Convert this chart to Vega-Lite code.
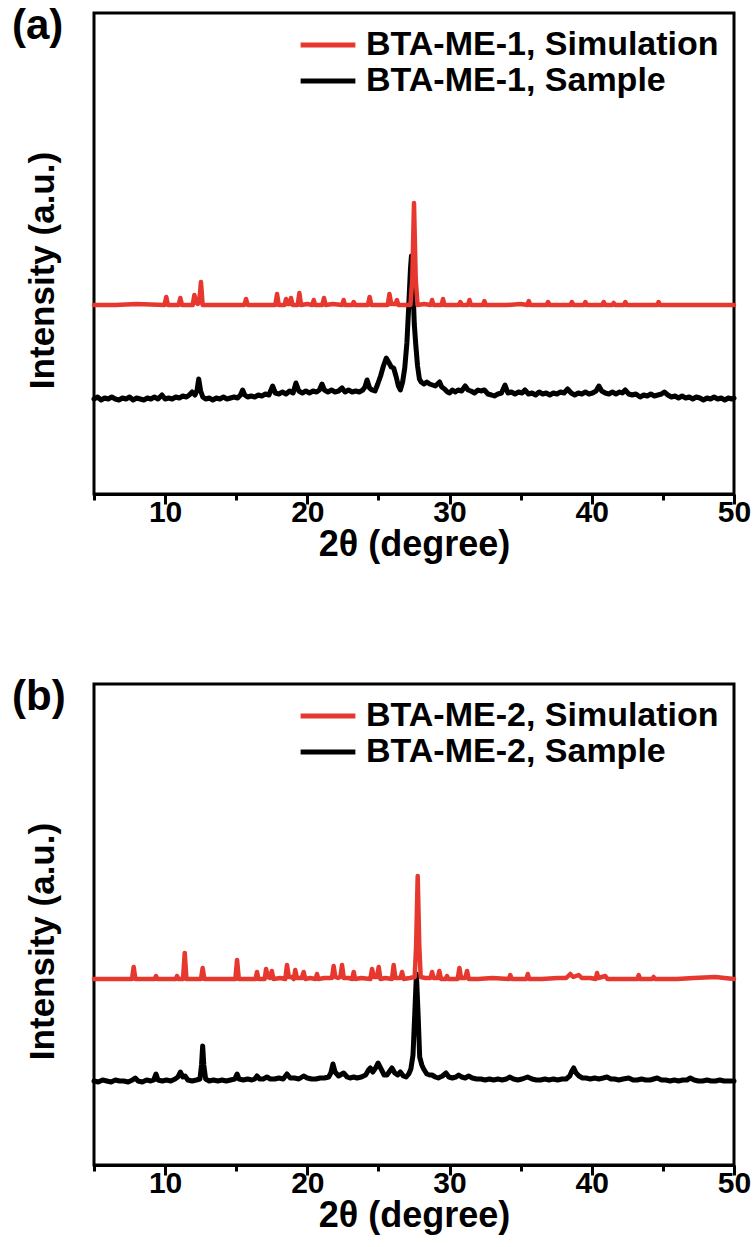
{
"$schema": "https://vega.github.io/schema/vega-lite/v6.json",
"background": "white",
"padding": {"left": 10, "top": 3, "right": 4, "bottom": 4},
"config": {
  "font": "Liberation Sans",
  "view": {"stroke": "#000000", "strokeWidth": 3},
  "line": {"strokeJoin": "round", "strokeCap": "round"},
  "legend": {"orient": "top-right", "offset": 15, "padding": 0, "title": null, "symbolType": "stroke", "symbolSize": 3000, "symbolStrokeWidth": 5, "clipHeight": 34, "rowPadding": 2, "labelFontSize": 34, "labelFontWeight": "bold", "labelColor": "#000000", "labelOffset": 8, "labelLimit": 500},
  "title": {"anchor": "start", "frame": "group", "orient": "top", "offset": -35, "dx": -82, "fontSize": 42, "fontWeight": "bold", "color": "#000000", "baseline": "bottom"},
  "concat": {"spacing": 110}
},
"datasets": {
"simA": [{"x":5,"y":189},{"x":6.5,"y":189},{"x":8,"y":190},{"x":9.96,"y":189},{"x":10.08,"y":197},{"x":10.2,"y":189},{"x":10.95,"y":189},{"x":11.07,"y":196},{"x":11.19,"y":189},{"x":11.94,"y":189},{"x":12.06,"y":199},{"x":12.2,"y":191},{"x":12.3,"y":190},{"x":12.4,"y":192},{"x":12.52,"y":212},{"x":12.64,"y":189},{"x":14,"y":189},{"x":15.57,"y":189},{"x":15.69,"y":195},{"x":15.81,"y":189},{"x":17.75,"y":189},{"x":17.87,"y":200},{"x":17.99,"y":189},{"x":18.4,"y":189},{"x":18.5,"y":195},{"x":18.6,"y":190},{"x":18.75,"y":190},{"x":18.85,"y":196},{"x":18.97,"y":189},{"x":19.32,"y":189},{"x":19.44,"y":201},{"x":19.56,"y":189},{"x":20.0,"y":190},{"x":20.35,"y":189},{"x":20.45,"y":194},{"x":20.55,"y":189},{"x":21.05,"y":189},{"x":21.17,"y":196},{"x":21.29,"y":189},{"x":21.8,"y":190},{"x":22.45,"y":189},{"x":22.55,"y":194},{"x":22.65,"y":189},{"x":23.16,"y":189},{"x":23.26,"y":192},{"x":23.36,"y":189},{"x":24.26,"y":189},{"x":24.38,"y":197},{"x":24.5,"y":189},{"x":25.65,"y":189},{"x":25.77,"y":200},{"x":25.9,"y":190},{"x":26.2,"y":190},{"x":26.3,"y":194},{"x":26.4,"y":189},{"x":27.25,"y":189},{"x":27.38,"y":215},{"x":27.5,"y":291},{"x":27.62,"y":215},{"x":27.75,"y":189},{"x":28.2,"y":190},{"x":28.67,"y":189},{"x":28.77,"y":194},{"x":28.87,"y":189},{"x":29.44,"y":189},{"x":29.54,"y":195},{"x":29.64,"y":189},{"x":30.66,"y":189},{"x":30.76,"y":192},{"x":30.86,"y":189},{"x":31.3,"y":189},{"x":31.4,"y":194},{"x":31.5,"y":189},{"x":32.35,"y":189},{"x":32.45,"y":193},{"x":32.55,"y":189},{"x":34,"y":189},{"x":35.0,"y":190},{"x":35.47,"y":189},{"x":35.57,"y":193},{"x":35.67,"y":189},{"x":36.83,"y":189},{"x":36.93,"y":192},{"x":37.03,"y":189},{"x":38.5,"y":189},{"x":38.6,"y":192},{"x":38.7,"y":189},{"x":39.45,"y":189},{"x":39.55,"y":192},{"x":39.65,"y":189},{"x":40.74,"y":189},{"x":40.84,"y":192},{"x":40.94,"y":189},{"x":41.44,"y":189},{"x":41.54,"y":191},{"x":41.64,"y":189},{"x":42.26,"y":189},{"x":42.36,"y":192},{"x":42.46,"y":189},{"x":43.5,"y":189},{"x":44.6,"y":189},{"x":44.7,"y":192},{"x":44.8,"y":189},{"x":46,"y":189},{"x":48,"y":189},{"x":50,"y":189}],
"smpA": [{"x":5.0,"y":95},{"x":5.25,"y":97},{"x":5.5,"y":94},{"x":5.75,"y":96},{"x":6.0,"y":95},{"x":6.25,"y":97},{"x":6.5,"y":95},{"x":6.75,"y":94},{"x":7.0,"y":96},{"x":7.25,"y":95},{"x":7.5,"y":97},{"x":7.75,"y":94},{"x":8.0,"y":96},{"x":8.25,"y":95},{"x":8.5,"y":94},{"x":8.75,"y":96},{"x":9.0,"y":95},{"x":9.25,"y":97},{"x":9.5,"y":95},{"x":9.78,"y":99},{"x":10.0,"y":95},{"x":10.25,"y":96},{"x":10.5,"y":95},{"x":10.75,"y":97},{"x":11.0,"y":96},{"x":11.25,"y":98},{"x":11.5,"y":97},{"x":11.7,"y":99},{"x":11.9,"y":102},{"x":12.1,"y":99},{"x":12.25,"y":104},{"x":12.36,"y":115},{"x":12.5,"y":103},{"x":12.65,"y":97},{"x":12.85,"y":95},{"x":13.1,"y":96},{"x":13.35,"y":94},{"x":13.6,"y":96},{"x":13.85,"y":95},{"x":14.1,"y":97},{"x":14.35,"y":95},{"x":14.6,"y":96},{"x":14.85,"y":97},{"x":15.1,"y":96},{"x":15.3,"y":99},{"x":15.45,"y":104},{"x":15.6,"y":99},{"x":15.8,"y":97},{"x":16.05,"y":98},{"x":16.3,"y":97},{"x":16.55,"y":99},{"x":16.8,"y":98},{"x":17.05,"y":100},{"x":17.3,"y":99},{"x":17.56,"y":108},{"x":17.75,"y":101},{"x":18.0,"y":100},{"x":18.25,"y":102},{"x":18.5,"y":100},{"x":18.75,"y":103},{"x":19.0,"y":101},{"x":19.2,"y":111},{"x":19.4,"y":103},{"x":19.65,"y":101},{"x":19.9,"y":103},{"x":20.15,"y":101},{"x":20.4,"y":103},{"x":20.65,"y":102},{"x":20.85,"y":104},{"x":21.03,"y":110},{"x":21.2,"y":104},{"x":21.45,"y":102},{"x":21.7,"y":104},{"x":21.95,"y":102},{"x":22.2,"y":103},{"x":22.44,"y":106},{"x":22.65,"y":102},{"x":22.9,"y":104},{"x":23.15,"y":102},{"x":23.4,"y":103},{"x":23.65,"y":102},{"x":23.9,"y":104},{"x":24.05,"y":107},{"x":24.2,"y":114},{"x":24.38,"y":106},{"x":24.55,"y":104},{"x":24.76,"y":103},{"x":24.95,"y":110},{"x":25.15,"y":118},{"x":25.35,"y":128},{"x":25.55,"y":136},{"x":25.75,"y":131},{"x":25.9,"y":127},{"x":26.07,"y":126},{"x":26.25,"y":117},{"x":26.4,"y":108},{"x":26.54,"y":104},{"x":26.7,"y":112},{"x":26.85,"y":126},{"x":27.0,"y":151},{"x":27.12,"y":185},{"x":27.25,"y":225},{"x":27.32,"y":238},{"x":27.42,"y":210},{"x":27.52,"y":170},{"x":27.62,"y":150},{"x":27.75,"y":128},{"x":27.88,"y":115},{"x":28.0,"y":112},{"x":28.2,"y":110},{"x":28.4,"y":112},{"x":28.6,"y":110},{"x":28.8,"y":109},{"x":29.0,"y":108},{"x":29.15,"y":110},{"x":29.3,"y":112},{"x":29.45,"y":107},{"x":29.65,"y":105},{"x":29.85,"y":102},{"x":30.0,"y":101},{"x":30.2,"y":104},{"x":30.4,"y":102},{"x":30.6,"y":104},{"x":30.85,"y":103},{"x":31.1,"y":108},{"x":31.3,"y":104},{"x":31.5,"y":103},{"x":31.75,"y":101},{"x":32.0,"y":104},{"x":32.2,"y":103},{"x":32.45,"y":104},{"x":32.7,"y":100},{"x":32.95,"y":99},{"x":33.15,"y":98},{"x":33.4,"y":100},{"x":33.65,"y":101},{"x":33.9,"y":109},{"x":34.1,"y":101},{"x":34.35,"y":102},{"x":34.6,"y":100},{"x":34.85,"y":102},{"x":35.1,"y":101},{"x":35.3,"y":104},{"x":35.55,"y":100},{"x":35.8,"y":101},{"x":36.05,"y":99},{"x":36.3,"y":102},{"x":36.55,"y":100},{"x":36.8,"y":101},{"x":37.05,"y":99},{"x":37.3,"y":101},{"x":37.55,"y":100},{"x":37.8,"y":102},{"x":38.05,"y":101},{"x":38.3,"y":105},{"x":38.55,"y":101},{"x":38.8,"y":99},{"x":39.05,"y":101},{"x":39.3,"y":100},{"x":39.55,"y":102},{"x":39.8,"y":100},{"x":40.05,"y":101},{"x":40.3,"y":103},{"x":40.5,"y":108},{"x":40.7,"y":103},{"x":40.95,"y":101},{"x":41.2,"y":100},{"x":41.45,"y":102},{"x":41.7,"y":100},{"x":41.95,"y":102},{"x":42.15,"y":101},{"x":42.35,"y":104},{"x":42.6,"y":100},{"x":42.85,"y":99},{"x":43.1,"y":100},{"x":43.4,"y":97},{"x":43.65,"y":99},{"x":43.9,"y":98},{"x":44.15,"y":100},{"x":44.4,"y":98},{"x":44.65,"y":99},{"x":44.9,"y":100},{"x":45.1,"y":102},{"x":45.35,"y":99},{"x":45.6,"y":97},{"x":45.85,"y":98},{"x":46.1,"y":96},{"x":46.35,"y":98},{"x":46.6,"y":96},{"x":46.85,"y":97},{"x":47.1,"y":95},{"x":47.35,"y":97},{"x":47.6,"y":96},{"x":47.85,"y":94},{"x":48.1,"y":96},{"x":48.35,"y":95},{"x":48.6,"y":97},{"x":48.85,"y":95},{"x":49.1,"y":96},{"x":49.35,"y":94},{"x":49.6,"y":96},{"x":49.85,"y":95},{"x":50.0,"y":96}],
"simB": [{"x":5,"y":186},{"x":7.0,"y":186},{"x":7.67,"y":186},{"x":7.79,"y":198},{"x":7.91,"y":186},{"x":9.26,"y":186},{"x":9.36,"y":189},{"x":9.46,"y":186},{"x":10.74,"y":186},{"x":10.84,"y":189},{"x":10.94,"y":186},{"x":11.26,"y":186},{"x":11.38,"y":212},{"x":11.5,"y":186},{"x":12.52,"y":186},{"x":12.64,"y":197},{"x":12.76,"y":186},{"x":14,"y":186},{"x":14.94,"y":186},{"x":15.06,"y":205},{"x":15.18,"y":186},{"x":16.36,"y":186},{"x":16.46,"y":193},{"x":16.56,"y":186},{"x":17.0,"y":186},{"x":17.1,"y":196},{"x":17.22,"y":188},{"x":17.38,"y":187},{"x":17.5,"y":194},{"x":17.62,"y":186},{"x":18.1,"y":187},{"x":18.45,"y":186},{"x":18.57,"y":200},{"x":18.7,"y":188},{"x":18.9,"y":188},{"x":19.05,"y":186},{"x":19.15,"y":195},{"x":19.27,"y":187},{"x":19.6,"y":187},{"x":19.74,"y":193},{"x":19.86,"y":186},{"x":20.2,"y":187},{"x":20.58,"y":186},{"x":20.68,"y":191},{"x":20.78,"y":186},{"x":21.2,"y":187},{"x":21.73,"y":187},{"x":21.85,"y":199},{"x":21.97,"y":188},{"x":22.15,"y":187},{"x":22.32,"y":188},{"x":22.44,"y":200},{"x":22.56,"y":187},{"x":22.9,"y":187},{"x":23.16,"y":186},{"x":23.26,"y":193},{"x":23.36,"y":186},{"x":23.8,"y":187},{"x":24.43,"y":186},{"x":24.55,"y":196},{"x":24.68,"y":188},{"x":24.9,"y":188},{"x":25.02,"y":198},{"x":25.14,"y":186},{"x":25.5,"y":187},{"x":25.95,"y":186},{"x":26.07,"y":200},{"x":26.19,"y":187},{"x":26.55,"y":187},{"x":26.66,"y":193},{"x":26.78,"y":186},{"x":27.2,"y":187},{"x":27.55,"y":188},{"x":27.65,"y":220},{"x":27.76,"y":289},{"x":27.87,"y":220},{"x":27.97,"y":188},{"x":28.3,"y":187},{"x":28.66,"y":187},{"x":28.77,"y":193},{"x":28.88,"y":187},{"x":29.17,"y":187},{"x":29.28,"y":194},{"x":29.4,"y":186},{"x":29.72,"y":186},{"x":29.82,"y":189},{"x":29.92,"y":186},{"x":30.57,"y":186},{"x":30.69,"y":197},{"x":30.81,"y":187},{"x":31.1,"y":187},{"x":31.23,"y":194},{"x":31.35,"y":186},{"x":32,"y":186},{"x":33,"y":187},{"x":34.17,"y":186},{"x":34.27,"y":190},{"x":34.37,"y":186},{"x":35.4,"y":186},{"x":35.5,"y":191},{"x":35.6,"y":186},{"x":36.5,"y":186},{"x":37.6,"y":187},{"x":38.2,"y":187},{"x":38.49,"y":191},{"x":38.7,"y":188},{"x":39.08,"y":190},{"x":39.3,"y":187},{"x":39.9,"y":187},{"x":40.27,"y":186},{"x":40.37,"y":192},{"x":40.47,"y":187},{"x":40.95,"y":189},{"x":41.1,"y":186},{"x":42,"y":186},{"x":43.2,"y":186},{"x":43.3,"y":190},{"x":43.4,"y":186},{"x":44.25,"y":186},{"x":44.35,"y":188},{"x":44.45,"y":186},{"x":46,"y":186},{"x":47.17,"y":187},{"x":48.69,"y":188},{"x":50,"y":186}],
"smpB": [{"x":5.0,"y":84},{"x":5.3,"y":83},{"x":5.6,"y":85},{"x":5.9,"y":84},{"x":6.2,"y":83},{"x":6.5,"y":85},{"x":6.8,"y":84},{"x":7.1,"y":84},{"x":7.4,"y":83},{"x":7.7,"y":85},{"x":7.9,"y":87},{"x":8.1,"y":84},{"x":8.4,"y":83},{"x":8.7,"y":85},{"x":9.0,"y":84},{"x":9.2,"y":85},{"x":9.36,"y":91},{"x":9.5,"y":85},{"x":9.8,"y":84},{"x":10.1,"y":85},{"x":10.4,"y":84},{"x":10.7,"y":86},{"x":10.9,"y":88},{"x":11.07,"y":93},{"x":11.25,"y":88},{"x":11.4,"y":89},{"x":11.6,"y":85},{"x":11.9,"y":84},{"x":12.2,"y":85},{"x":12.45,"y":86},{"x":12.56,"y":100},{"x":12.64,"y":119},{"x":12.72,"y":100},{"x":12.85,"y":86},{"x":13.1,"y":84},{"x":13.4,"y":85},{"x":13.7,"y":84},{"x":14.0,"y":85},{"x":14.3,"y":84},{"x":14.6,"y":85},{"x":14.9,"y":86},{"x":15.06,"y":91},{"x":15.2,"y":86},{"x":15.5,"y":85},{"x":15.8,"y":86},{"x":16.1,"y":85},{"x":16.3,"y":86},{"x":16.46,"y":89},{"x":16.65,"y":86},{"x":16.9,"y":86},{"x":17.16,"y":88},{"x":17.4,"y":86},{"x":17.7,"y":86},{"x":18.0,"y":87},{"x":18.3,"y":86},{"x":18.57,"y":91},{"x":18.8,"y":87},{"x":19.1,"y":87},{"x":19.4,"y":86},{"x":19.74,"y":89},{"x":20.0,"y":87},{"x":20.3,"y":86},{"x":20.6,"y":86},{"x":20.9,"y":87},{"x":21.2,"y":87},{"x":21.5,"y":88},{"x":21.65,"y":92},{"x":21.8,"y":101},{"x":21.95,"y":93},{"x":22.2,"y":89},{"x":22.55,"y":92},{"x":22.8,"y":88},{"x":23.0,"y":87},{"x":23.26,"y":88},{"x":23.5,"y":87},{"x":23.8,"y":88},{"x":24.1,"y":90},{"x":24.3,"y":95},{"x":24.43,"y":97},{"x":24.6,"y":93},{"x":24.8,"y":97},{"x":24.97,"y":102},{"x":25.15,"y":97},{"x":25.4,"y":90},{"x":25.6,"y":90},{"x":25.8,"y":94},{"x":25.95,"y":97},{"x":26.15,"y":92},{"x":26.35,"y":90},{"x":26.54,"y":93},{"x":26.75,"y":89},{"x":26.95,"y":88},{"x":27.13,"y":91},{"x":27.28,"y":96},{"x":27.43,"y":110},{"x":27.55,"y":150},{"x":27.67,"y":191},{"x":27.79,"y":150},{"x":27.9,"y":108},{"x":28.05,"y":100},{"x":28.18,"y":96},{"x":28.4,"y":91},{"x":28.6,"y":90},{"x":28.77,"y":90},{"x":29.0,"y":88},{"x":29.2,"y":87},{"x":29.5,"y":89},{"x":29.75,"y":92},{"x":29.95,"y":88},{"x":30.2,"y":87},{"x":30.45,"y":88},{"x":30.64,"y":90},{"x":30.85,"y":88},{"x":31.1,"y":87},{"x":31.34,"y":89},{"x":31.6,"y":87},{"x":31.9,"y":86},{"x":32.2,"y":86},{"x":32.5,"y":85},{"x":32.8,"y":86},{"x":33.1,"y":85},{"x":33.4,"y":86},{"x":33.7,"y":85},{"x":34.0,"y":86},{"x":34.22,"y":88},{"x":34.5,"y":86},{"x":34.8,"y":85},{"x":35.1,"y":86},{"x":35.49,"y":88},{"x":35.8,"y":86},{"x":36.1,"y":85},{"x":36.4,"y":85},{"x":36.7,"y":86},{"x":37.0,"y":85},{"x":37.3,"y":86},{"x":37.6,"y":85},{"x":37.9,"y":86},{"x":38.2,"y":86},{"x":38.45,"y":89},{"x":38.6,"y":94},{"x":38.73,"y":97},{"x":38.9,"y":92},{"x":39.1,"y":89},{"x":39.35,"y":87},{"x":39.6,"y":87},{"x":39.9,"y":86},{"x":40.2,"y":87},{"x":40.5,"y":86},{"x":40.8,"y":87},{"x":41.07,"y":88},{"x":41.35,"y":86},{"x":41.6,"y":86},{"x":41.9,"y":85},{"x":42.2,"y":86},{"x":42.6,"y":87},{"x":42.9,"y":85},{"x":43.2,"y":85},{"x":43.5,"y":86},{"x":43.8,"y":85},{"x":44.1,"y":85},{"x":44.35,"y":86},{"x":44.6,"y":87},{"x":44.9,"y":85},{"x":45.2,"y":85},{"x":45.5,"y":84},{"x":45.8,"y":85},{"x":46.1,"y":84},{"x":46.4,"y":85},{"x":46.7,"y":85},{"x":46.93,"y":87},{"x":47.2,"y":85},{"x":47.5,"y":84},{"x":47.8,"y":84},{"x":48.1,"y":85},{"x":48.4,"y":84},{"x":48.7,"y":84},{"x":49.0,"y":85},{"x":49.3,"y":84},{"x":49.6,"y":84},{"x":50.0,"y":84}]
},
"vconcat": [
{
  "title": {"text": "(a)"},
  "width": 640, "height": 481,
  "encoding": {
    "x": {"field": "x", "type": "quantitative", "title": "2θ (degree)", "scale": {"domain": [5, 50], "nice": false, "zero": false},
      "axis": {"values": [5,10,15,20,25,30,35,40,45,50], "labelExpr": "datum.value % 10 === 0 ? datum.label : ''", "grid": false, "domainColor": "#000000", "domainWidth": 3, "tickColor": "#000000", "tickWidth": 3, "tickSize": {"condition": {"test": "datum.value % 10 === 0", "value": 10}, "value": 6}, "labelFontSize": 30, "labelFontWeight": "bold", "labelColor": "#000000", "labelPadding": -7, "labelFlush": false, "labelOverlap": false, "titleFontSize": 36, "titleFontWeight": "bold", "titleColor": "#000000", "titlePadding": 0}},
    "y": {"field": "y", "type": "quantitative", "title": "Intensity (a.u.)", "scale": {"domain": [0, 481], "nice": false, "zero": false},
      "axis": {"labels": false, "ticks": false, "domain": false, "grid": false, "minExtent": 0, "titleFontSize": 35, "titleFontWeight": "bold", "titleColor": "#000000", "titlePadding": 34, "titleY": 257}}
  },
  "layer": [
    {"data": {"name": "smpA"}, "mark": {"type": "line", "strokeWidth": 5},
     "encoding": {"color": {"datum": "BTA-ME-1, Sample", "type": "nominal", "scale": {"domain": ["BTA-ME-1, Simulation", "BTA-ME-1, Sample"], "range": ["#e6382e", "#000000"]}}}},
    {"data": {"name": "simA"}, "mark": {"type": "line", "strokeWidth": 4.5},
     "encoding": {"color": {"datum": "BTA-ME-1, Simulation", "type": "nominal"}}}
  ]
},
{
  "title": {"text": "(b)"},
  "width": 640, "height": 481,
  "encoding": {
    "x": {"field": "x", "type": "quantitative", "title": "2θ (degree)", "scale": {"domain": [5, 50], "nice": false, "zero": false},
      "axis": {"values": [5,10,15,20,25,30,35,40,45,50], "labelExpr": "datum.value % 10 === 0 ? datum.label : ''", "grid": false, "domainColor": "#000000", "domainWidth": 3, "tickColor": "#000000", "tickWidth": 3, "tickSize": {"condition": {"test": "datum.value % 10 === 0", "value": 10}, "value": 6}, "labelFontSize": 30, "labelFontWeight": "bold", "labelColor": "#000000", "labelPadding": -7, "labelFlush": false, "labelOverlap": false, "titleFontSize": 36, "titleFontWeight": "bold", "titleColor": "#000000", "titlePadding": 0}},
    "y": {"field": "y", "type": "quantitative", "title": "Intensity (a.u.)", "scale": {"domain": [0, 481], "nice": false, "zero": false},
      "axis": {"labels": false, "ticks": false, "domain": false, "grid": false, "minExtent": 0, "titleFontSize": 35, "titleFontWeight": "bold", "titleColor": "#000000", "titlePadding": 34, "titleY": 257}}
  },
  "layer": [
    {"data": {"name": "smpB"}, "mark": {"type": "line", "strokeWidth": 5},
     "encoding": {"color": {"datum": "BTA-ME-2, Sample", "type": "nominal", "scale": {"domain": ["BTA-ME-2, Simulation", "BTA-ME-2, Sample"], "range": ["#e6382e", "#000000"]}}}},
    {"data": {"name": "simB"}, "mark": {"type": "line", "strokeWidth": 4.5},
     "encoding": {"color": {"datum": "BTA-ME-2, Simulation", "type": "nominal"}}}
  ]
}
],
"resolve": {"scale": {"color": "independent", "x": "independent", "y": "independent"}, "legend": {"color": "independent"}}
}
